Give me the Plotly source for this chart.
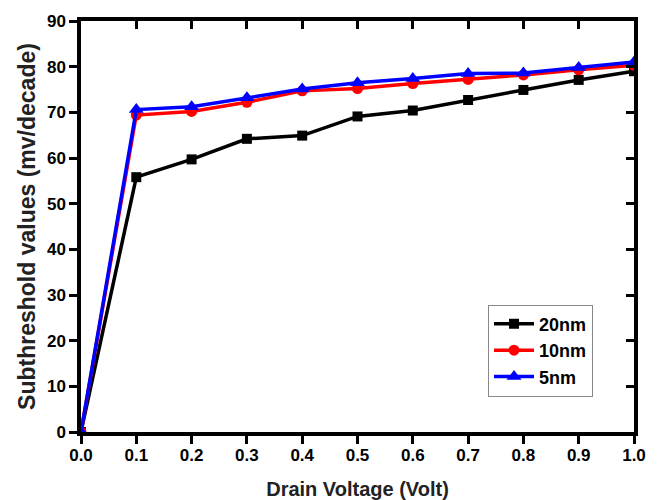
import plotly.graph_objects as go

voltage = [0.0, 0.1, 0.2, 0.3, 0.4, 0.5, 0.6, 0.7, 0.8, 0.9, 1.0]
ss_20nm = [0, 55.8, 59.7, 64.2, 64.9, 69.1, 70.4, 72.7, 74.9, 77.1, 79.0]
ss_10nm = [0, 69.4, 70.2, 72.2, 74.7, 75.2, 76.3, 77.2, 78.2, 79.3, 80.3]
ss_5nm = [0, 70.6, 71.2, 73.2, 75.1, 76.5, 77.4, 78.5, 78.6, 79.8, 81.0]
x_ticks = [0.0, 0.1, 0.2, 0.3, 0.4, 0.5, 0.6, 0.7, 0.8, 0.9, 1.0]
y_ticks = [0, 10, 20, 30, 40, 50, 60, 70, 80, 90]

FONT = "Liberation Sans, Arial, sans-serif"

fig = go.Figure()
series = [
    ("20nm", ss_20nm, "#000000", "square", 10),
    ("10nm", ss_10nm, "#ff0000", "circle", 11),
    ("5nm", ss_5nm, "#0000ff", "triangle-up", 13),
]
for name, vals, col, sym, sz in series:
    fig.add_trace(go.Scatter(
        x=voltage, y=vals, name=name, mode="lines+markers",
        line=dict(color=col, width=3.5),
        marker=dict(symbol=sym, size=sz, color=col),
    ))

# invisible trace to carry the mirrored (top/right) axes
fig.add_trace(go.Scatter(x=voltage, y=ss_20nm, xaxis="x2", yaxis="y2",
                         mode="lines", opacity=0, showlegend=False, hoverinfo="skip"))

axis_common = dict(showgrid=False, zeroline=False, showline=True,
                   linecolor="black", linewidth=3.5, tickcolor="black",
                   tickwidth=3, ticklen=8, automargin=False)

fig.update_layout(
    width=662, height=500,
    margin=dict(l=81, r=28, t=21, b=68),
    paper_bgcolor="white", plot_bgcolor="white",
    font=dict(family=FONT, color="black"),
    xaxis=dict(range=[0, 1], tickvals=x_ticks, ticktext=[f"{v:.1f}" for v in x_ticks],
               ticks="outside", ticklabelstandoff=-3,
               tickfont=dict(size=17, family=FONT, weight="bold"),
               title=dict(text="Drain Voltage (Volt)", standoff=20,
                          font=dict(size=20, family=FONT, weight="bold", color="#222")),
               **axis_common),
    yaxis=dict(range=[0, 90], tickvals=y_ticks, ticks="outside",
               tickfont=dict(size=17, family=FONT, weight="bold"),
               title=dict(text="Subthreshold values (mv/decade)", standoff=6,
                          font=dict(size=23, family=FONT, weight="bold", color="#222")),
               **axis_common),
    xaxis2=dict(range=[0, 1], tickvals=x_ticks, overlaying="x", side="top",
                ticks="inside", showticklabels=False, **axis_common),
    yaxis2=dict(range=[0, 90], tickvals=y_ticks, overlaying="y", side="right",
                ticks="inside", showticklabels=False, **axis_common),
    legend=dict(x=0.736, y=0.31, xanchor="left", yanchor="top",
                bgcolor="white", bordercolor="#888", borderwidth=1,
                font=dict(size=18, family=FONT, weight="bold"),
                tracegroupgap=0, itemwidth=40),
    showlegend=True,
)

fig.write_html("out.html")
